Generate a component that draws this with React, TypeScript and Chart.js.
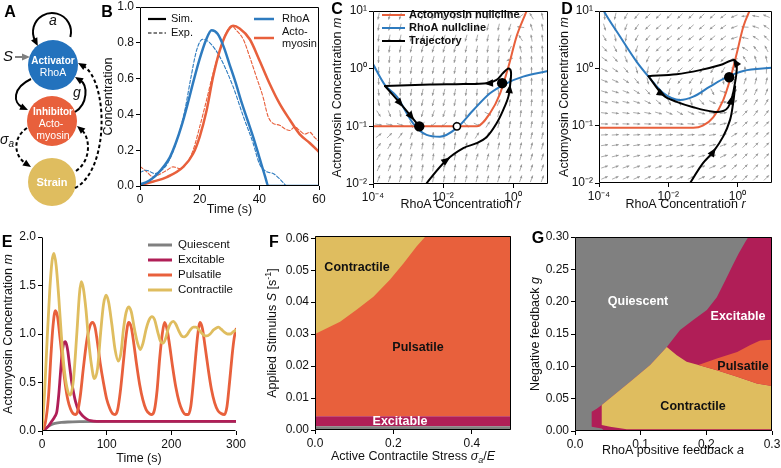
import React, { useEffect, useRef } from 'react';
import { Chart, registerables } from 'chart.js';
Chart.register(...registerables);

const W = 781;
const H = 468;
const FONT = '"Liberation Sans", Arial, Helvetica, sans-serif';
const INK = '#111111';
const BLUE = '#2e7bbf';
const NODE_BLUE = '#2372bd';
const ORANGE = '#e8603c';
const CRIMSON = '#b01e57';
const YELLOW = '#dfbd5f';
const GREY = '#808080';
const QGREY = '#979797';

// ---------------- Panel B ----------------
const B_X_TICKS = [0, 20, 40, 60];
const B_Y_TICKS = [0, 0.2, 0.4, 0.6, 0.8, 1.0];
const B_T_SIM = [0, 2, 4, 6, 8, 10, 12, 14, 16, 18, 20, 22, 24, 26, 28, 30, 32, 34, 36, 38, 40, 42, 43, 50, 60];
const B_RHOA_SIM = [0.01, 0.02, 0.04, 0.07, 0.11, 0.16, 0.24, 0.34, 0.46, 0.59, 0.71, 0.81, 0.87, 0.85, 0.78, 0.68, 0.58, 0.47, 0.37, 0.27, 0.16, 0.05, 0, 0, 0];
const B_T_RHOA_EXP = [0, 2, 5, 7, 9, 11, 13, 15, 17, 19, 21, 23.4, 26.8, 31.2, 34.6, 37.9, 40, 42.4, 44.6, 46.8, 49];
const B_RHOA_EXP = [0.075, 0.088, 0.07, 0.085, 0.12, 0.19, 0.29, 0.42, 0.6, 0.76, 0.82, 0.8, 0.72, 0.555, 0.39, 0.24, 0.125, 0.08, 0.07, 0.04, 0.0];
const B_T_ACTO_SIM = [0, 4.5, 9, 14.5, 17.8, 20, 22.3, 24.5, 26.8, 29, 31.2, 33.4, 36.8, 40.1, 43.5, 46.8, 50.2, 53.5, 56.9, 60];
const B_ACTO_SIM = [0.005, 0.025, 0.05, 0.107, 0.18, 0.275, 0.42, 0.61, 0.76, 0.854, 0.895, 0.88, 0.82, 0.7, 0.57, 0.46, 0.37, 0.29, 0.24, 0.19];
const B_T_ACTO_EXP = [0, 2.2, 4.5, 6, 9, 11.1, 13.4, 15.6, 17.8, 20, 22.3, 24.5, 26.8, 29, 30.7, 32.3, 34.6, 36.8, 39, 41.2, 42.9, 44.6, 46.8, 48.5, 50.2, 51.9, 53.5, 55.2, 56.9, 58.6, 60];
const B_ACTO_EXP = [0.11, 0.08, 0.05, 0.06, 0.088, 0.107, 0.097, 0.125, 0.2, 0.33, 0.48, 0.63, 0.76, 0.86, 0.895, 0.87, 0.82, 0.72, 0.61, 0.5, 0.39, 0.35, 0.34, 0.32, 0.31, 0.33, 0.31, 0.29, 0.3, 0.27, 0.25];

// ---------------- Panels C / D (phase planes) ----------------
const LOG_R_TICKS = [1e-4, 1e-2, 1];
const LOG_R_LABELS = ['10⁻⁴', '10⁻²', '10⁰'];
const LOG_M_TICKS = [1e-2, 1e-1, 1, 10];
const LOG_M_LABELS = ['10⁻²', '10⁻¹', '10⁰', '10¹'];
const QUIVER_LOG_R = [-3.84, -3.53, -3.22, -2.91, -2.59, -2.28, -1.97, -1.66, -1.34, -1.03, -0.72, -0.41, -0.09, 0.22, 0.53, 0.84];
const QUIVER_LOG_M = [-1.91, -1.72, -1.53, -1.34, -1.16, -0.97, -0.78, -0.59, -0.41, -0.22, -0.03, 0.16, 0.34, 0.53, 0.72, 0.91];

const C_ORANGE_R = [1e-4, 0.093, 0.22, 0.43, 0.74, 1.26, 2.5, 3.2];
const C_ORANGE_M = [0.1, 0.1, 0.169, 0.374, 1.08, 3.59, 10.4, 16];
const C_BLUE_R = [1e-4, 2.2e-4, 4.8e-4, 1.4e-3, 3.4e-3, 8.2e-3, 0.0245, 0.074, 0.22, 0.65, 1.94, 10];
const C_BLUE_M = [1.2, 0.52, 0.327, 0.113, 0.071, 0.066, 0.093, 0.192, 0.374, 0.558, 0.728, 0.912];
const C_TRAJ1_R = [2.6e-3, 3.4e-3, 0.0126, 0.038, 0.091, 0.18, 0.34, 0.52, 0.74, 0.84, 0.88, 0.85, 0.72, 0.52, 0.34, 0.18, 0.038, 4.3e-3, 2.2e-4];
const C_TRAJ1_M = [0.008, 0.0103, 0.026, 0.042, 0.051, 0.066, 0.113, 0.19, 0.33, 0.56, 0.78, 0.95, 1.0, 0.84, 0.64, 0.56, 0.54, 0.53, 0.5];
const C_TRAJ2_R = [2.2e-4, 6e-4, 1.3e-3, 2.1e-3];
const C_TRAJ2_M = [0.5, 0.25, 0.143, 0.1];
const C_STABLE_R = [2.1e-3, 0.49];
const C_STABLE_M = [0.1, 0.56];
const C_UNSTABLE_R = [0.025];
const C_UNSTABLE_M = [0.1];
// arrowheads: [r, m, rToward, mToward]
const C_ARROWS = [
  [0.0126, 0.026, 0.038, 0.042],
  [0.8, 0.45, 0.88, 0.78],
  [0.2, 0.56, 0.1, 0.55],
  [6e-4, 0.25, 1.3e-3, 0.143],
  [1.25e-3, 0.147, 2.1e-3, 0.1],
];

const D_ORANGE_R = [1e-4, 0.053, 0.1, 0.2, 0.39, 0.61, 0.96, 1.48, 2.3, 3];
const D_ORANGE_M = [0.092, 0.092, 0.1, 0.14, 0.28, 0.63, 1.83, 5.3, 10.4, 15];
const D_BLUE_R = [1e-4, 1.33e-4, 4.1e-4, 1.23e-3, 2.97e-3, 7.2e-3, 0.022, 0.053, 0.16, 0.49, 1.48, 10];
const D_BLUE_M = [15, 10.4, 3.56, 1.3, 0.67, 0.37, 0.28, 0.32, 0.48, 0.7, 0.9, 1.02];
const D_APPROACH_R = [0.035, 0.043, 0.1, 0.2, 0.39, 0.61, 0.75, 0.86];
const D_APPROACH_M = [0.008, 0.01, 0.022, 0.035, 0.065, 0.125, 0.245, 0.48];
const D_CYCLE_R = [2.67e-3, 7.2e-3, 0.0176, 0.053, 0.2, 0.39, 0.54, 0.69, 0.85, 0.96, 0.8, 0.32, 0.083, 0.0176, 2.67e-3];
const D_CYCLE_M = [0.73, 0.34, 0.26, 0.21, 0.175, 0.18, 0.21, 0.3, 0.55, 1.07, 1.4, 1.14, 0.93, 0.79, 0.73];
const D_STABLE_R = [0.58];
const D_STABLE_M = [0.7];
const D_ARROWS = [
  [0.2, 0.035, 0.39, 0.065],
  [0.66, 0.28, 0.85, 0.55],
  [6.5e-3, 0.36, 0.0176, 0.26],
  [0.88, 1.28, 0.8, 1.4],
];

// ---------------- Panel E ----------------
const E_X_TICKS = [0, 100, 200, 300];
const E_Y_TICKS = [0, 0.5, 1.0, 1.5, 2.0];
const E_T_QUI = [0, 5, 10, 15, 20, 30, 40, 60, 100, 300];
const E_QUI = [0, 0.025, 0.05, 0.068, 0.078, 0.088, 0.093, 0.097, 0.1, 0.1];
const E_T_EXC = [0, 5, 10, 15, 20, 23, 26, 28, 30, 32, 34, 36, 38, 40, 42, 44, 46, 49, 52, 56, 60, 64, 70, 75, 85, 100, 300];
const E_EXC = [0, 0.02, 0.05, 0.1, 0.15, 0.2, 0.38, 0.55, 0.72, 0.85, 0.91, 0.92, 0.89, 0.82, 0.71, 0.6, 0.5, 0.39, 0.3, 0.22, 0.18, 0.15, 0.12, 0.107, 0.1, 0.1, 0.1];
const E_T_PUL = [0, 5, 10, 14, 17, 20.5, 24, 28, 32, 36, 40, 44, 48, 51.5, 55, 59, 64, 69, 74, 78, 82, 86, 90, 95, 100, 105, 109, 113, 117, 121, 126, 130, 134, 138, 142, 146, 151, 156, 161, 166, 170, 174, 178, 182, 186, 189.5, 193, 197, 202, 207, 212, 217, 222, 226, 230, 234, 238, 241, 244.5, 248, 252, 257, 262, 267, 272, 277, 282, 286, 290, 294, 297, 300];
const E_PUL = [0, 0.08, 0.35, 0.8, 1.08, 1.24, 1.18, 0.95, 0.7, 0.48, 0.32, 0.23, 0.18, 0.17, 0.2, 0.35, 0.65, 0.92, 1.08, 1.12, 1.07, 0.9, 0.7, 0.5, 0.33, 0.23, 0.18, 0.17, 0.22, 0.4, 0.72, 0.98, 1.12, 1.07, 0.9, 0.7, 0.48, 0.32, 0.22, 0.18, 0.17, 0.22, 0.42, 0.75, 1.0, 1.12, 1.06, 0.9, 0.66, 0.45, 0.3, 0.21, 0.17, 0.17, 0.25, 0.5, 0.8, 1.0, 1.12, 1.06, 0.88, 0.64, 0.43, 0.29, 0.21, 0.18, 0.17, 0.25, 0.5, 0.78, 0.95, 1.05];
const E_T_CON = [0, 4, 8, 12, 15.5, 18.5, 22, 26, 30, 34, 38.5, 43.7, 48.5, 54, 58, 60.7, 64, 68, 72, 76.5, 81, 86, 90.5, 95, 99, 103, 108, 113, 118, 122, 126, 130, 134, 138, 143, 148, 152, 156, 161, 166, 170, 174, 179, 183, 187, 191, 195, 199, 203, 207, 211, 216, 220, 224, 229, 234, 238, 242, 247, 251, 255, 260, 265, 269, 273, 277, 282, 287, 291, 295, 300];
const E_CON = [0, 0.4, 0.95, 1.45, 1.75, 1.83, 1.7, 1.37, 0.98, 0.66, 0.45, 0.37, 0.52, 1.02, 1.42, 1.54, 1.47, 1.25, 0.94, 0.68, 0.54, 0.65, 1.0, 1.3, 1.4, 1.33, 1.1, 0.84, 0.72, 0.8, 1.05, 1.22, 1.28, 1.23, 1.05, 0.9, 0.84, 0.9, 1.05, 1.15, 1.18, 1.15, 1.02, 0.93, 0.905, 0.95, 1.05, 1.11, 1.13, 1.1, 1.04, 0.98, 0.97, 0.99, 1.04, 1.07, 1.07, 1.05, 1.01, 0.985, 0.98, 1.0, 1.04, 1.06, 1.07, 1.05, 1.02, 1.0, 1.0, 1.02, 1.04];
const E_LEGEND = ['Quiescent', 'Excitable', 'Pulsatile', 'Contractile'];

// ---------------- Panel F ----------------
const F_X_TICKS = [0, 0.2, 0.4];
const F_Y_TICKS = [0, 0.01, 0.02, 0.03, 0.04, 0.05, 0.06];
const F_X_MAX = 0.5;
const F_Y_MAX = 0.0607;
const F_QUI_TOP = 0.0012;
const F_EXC_TOP = 0.0043;
const F_CON_X = [0, 0.021, 0.064, 0.106, 0.149, 0.191, 0.225, 0.259, 0.28, 0.284, 0];
const F_CON_Y = [0.03, 0.0313, 0.0339, 0.0376, 0.0417, 0.047, 0.052, 0.0574, 0.0603, 0.0607, 0.0607];

// ---------------- Panel G ----------------
const G_X_TICKS = [0, 0.1, 0.2, 0.3];
const G_Y_TICKS = [0, 0.05, 0.1, 0.15, 0.2, 0.25, 0.3];
const G_EXC_A = [0.3, 0.3, 0.264, 0.259, 0.249, 0.239, 0.229, 0.216, 0.2008, 0.1805, 0.16, 0.1398, 0.1144, 0.0839, 0.0407, 0.033, 0.0254, 0.0254, 0.0407, 0.045, 0.3];
const G_EXC_G = [0, 0.3, 0.3, 0.292, 0.274, 0.254, 0.233, 0.207, 0.187, 0.172, 0.156, 0.13, 0.1019, 0.0762, 0.0401, 0.0345, 0.0298, 0.0067, 0.004, 0, 0];
const G_CON_A = [0.0407, 0.0839, 0.1144, 0.1398, 0.155, 0.17, 0.188, 0.216, 0.247, 0.277, 0.3, 0.3, 0.0788, 0.0534, 0.0407, 0.0407];
const G_CON_G = [0.0401, 0.0762, 0.1019, 0.13, 0.117, 0.107, 0.102, 0.094, 0.084, 0.0736, 0.0695, 0.0026, 0.0026, 0.0067, 0.0093, 0.0401];
const G_PUL_A = [0.188, 0.216, 0.247, 0.267, 0.282, 0.3, 0.3, 0.277, 0.247, 0.216, 0.188];
const G_PUL_G = [0.102, 0.112, 0.122, 0.133, 0.14, 0.141, 0.0695, 0.0736, 0.084, 0.094, 0.102];

// ---------------- Panel A (schematic) ----------------
const NODE_X = [53, 52, 52];
const NODE_Y = [65, 121, 182];
const NODE_R = [25, 25, 24];
const NODE_COLORS = [NODE_BLUE, ORANGE, YELLOW];

// ---------------- layout ----------------
type Rect = { l: number; t: number; r: number; b: number };
const RECT_B: Rect = { l: 140, t: 7, r: 319, b: 186 };
const RECT_C: Rect = { l: 373, t: 11, r: 548, b: 184 };
const RECT_D: Rect = { l: 599, t: 11, r: 772, b: 183 };
const RECT_E: Rect = { l: 42, t: 237, r: 236, b: 431 };
const RECT_F: Rect = { l: 315, t: 236, r: 511, b: 430 };
const RECT_G: Rect = { l: 575, t: 237, r: 772, b: 431 };
const AXW = 30;
const AXH = 20;

const pts = (xs: number[], ys: number[]) => xs.map((x, i) => ({ x, y: ys[i] }));
const clamp = (v: number, a: number, b: number) => Math.max(a, Math.min(b, v));

type Seg = { t: string; i?: boolean; b?: boolean; sub?: boolean; sup?: boolean };
function rich(ctx: CanvasRenderingContext2D, segs: Seg[], x: number, y: number, size: number, opt: any = {}) {
  ctx.save();
  ctx.translate(x, y);
  if (opt.rot) ctx.rotate(-Math.PI / 2);
  const fontOf = (s: Seg) =>
    `${s.i ? 'italic ' : ''}${s.b || opt.bold ? 'bold ' : ''}${s.sub || s.sup ? Math.round(size * 0.72) : size}px ${FONT}`;
  let total = 0;
  const ws = segs.map((s) => {
    ctx.font = fontOf(s);
    const w = ctx.measureText(s.t).width;
    total += w;
    return w;
  });
  let cx = opt.align === 'left' ? 0 : opt.align === 'right' ? -total : -total / 2;
  ctx.textBaseline = 'middle';
  ctx.textAlign = 'left';
  ctx.fillStyle = opt.color || INK;
  segs.forEach((s, k) => {
    ctx.font = fontOf(s);
    const dy = s.sub ? size * 0.3 : s.sup ? -size * 0.38 : 0;
    ctx.fillText(s.t, cx, dy);
    cx += ws[k];
  });
  ctx.restore();
}
const txt = (t: string, i = false): Seg => ({ t, i });

function fitFixed(kind: string) {
  return (s: any) => {
    if (kind === 'y') s.width = AXW;
    else s.height = AXH;
    s.paddingLeft = 0;
    s.paddingRight = 0;
    s.paddingTop = 0;
    s.paddingBottom = 0;
  };
}

function mkAxis(kind: string, type: string, min: number, max: number, ticks: number[], fmt: (v: number, i: number) => string) {
  return {
    type,
    min,
    max,
    display: true,
    grid: { display: true, drawOnChartArea: false, drawTicks: true, tickLength: 4, color: '#000', lineWidth: 1 },
    border: { display: false },
    ticks: {
      color: INK,
      font: { family: FONT, size: 12 },
      padding: 2,
      maxRotation: 0,
      minRotation: 0,
      autoSkip: false,
      callback: (v: any, i: number) => fmt(Number(v), i),
    },
    afterBuildTicks: (s: any) => {
      s.ticks = ticks.map((v) => ({ value: v }));
    },
    afterFit: fitFixed(kind),
  };
}

function baseOpts(rect: Rect, scales: any) {
  return {
    responsive: false,
    animation: false,
    devicePixelRatio: 1,
    events: [],
    layout: {
      autoPadding: false,
      padding: { left: rect.l - AXW, top: rect.t, right: W - rect.r, bottom: H - rect.b - AXH },
    },
    plugins: { legend: { display: false }, tooltip: { enabled: false } },
    scales,
  };
}

function lineDs(data: any[], color: string, width: number, extra: any = {}) {
  return {
    data,
    borderColor: color,
    backgroundColor: color,
    borderWidth: width,
    pointRadius: 0,
    showLine: true,
    fill: false,
    tension: 0,
    borderCapStyle: 'round',
    borderJoinStyle: 'round',
    ...extra,
  };
}
function polyDs(data: any[], color: string, order: number) {
  return { data, borderWidth: 0, borderColor: color, backgroundColor: color, pointRadius: 0, showLine: true, fill: 'shape', order };
}

function framePlugin(sides: string) {
  return {
    id: 'frame',
    afterDatasetsDraw(chart: any) {
      const { ctx, chartArea: a } = chart;
      const l = Math.round(a.left) + 0.5;
      const r = Math.round(a.right) - 0.5;
      const t = Math.round(a.top) + 0.5;
      const b = Math.round(a.bottom) - 0.5;
      ctx.save();
      ctx.strokeStyle = '#000';
      ctx.lineWidth = 1;
      ctx.beginPath();
      if (sides === 'lb') {
        ctx.moveTo(l, t);
        ctx.lineTo(l, b);
        ctx.lineTo(r, b);
      } else {
        ctx.rect(l, t, r - l, b - t);
      }
      ctx.stroke();
      ctx.restore();
    },
  };
}

function drawPlugin(id: string, fn: (ctx: CanvasRenderingContext2D, chart: any) => void) {
  return { id, afterDraw(chart: any) { fn(chart.ctx, chart); } };
}

function logInterp(xs: number[], ys: number[], x: number) {
  const lx = Math.log10(x);
  const LX = xs.map((v) => Math.log10(v));
  const LY = ys.map((v) => Math.log10(v));
  let k = 0;
  while (k < LX.length - 2 && lx > LX[k + 1]) k++;
  const f = (lx - LX[k]) / (LX[k + 1] - LX[k]);
  return LY[k] + f * (LY[k + 1] - LY[k]);
}

function quiverPlugin(bR: number[], bM: number[], oR: number[], oM: number[], kr: number, km: number) {
  return {
    id: 'quiver',
    beforeDatasetsDraw(chart: any) {
      const { ctx, chartArea: a, scales } = chart;
      ctx.save();
      ctx.beginPath();
      ctx.rect(a.left, a.top, a.right - a.left, a.bottom - a.top);
      ctx.clip();
      ctx.strokeStyle = QGREY;
      ctx.fillStyle = QGREY;
      ctx.lineWidth = 0.8;
      for (const lr of QUIVER_LOG_R) {
        for (const lm of QUIVER_LOG_M) {
          const r = Math.pow(10, lr);
          const m = Math.pow(10, lm);
          const px = scales.x.getPixelForValue(r);
          const py = scales.y.getPixelForValue(m);
          const lb = logInterp(bR, bM, r);
          const lo = logInterp(oR, oM, r);
          let dx = clamp(kr * (lb - lm), -1, 1);
          let dy = -clamp(km * (lo - lm), -1, 1);
          const n = Math.hypot(dx, dy);
          if (n < 1e-6) continue;
          dx /= n;
          dy /= n;
          const L = 7;
          const x1 = px + (dx * L) / 2;
          const y1 = py + (dy * L) / 2;
          ctx.beginPath();
          ctx.moveTo(px - (dx * L) / 2, py - (dy * L) / 2);
          ctx.lineTo(x1, y1);
          ctx.stroke();
          const ang = Math.atan2(dy, dx);
          ctx.beginPath();
          ctx.moveTo(x1, y1);
          ctx.lineTo(x1 - 2.6 * Math.cos(ang) + 1.3 * Math.sin(ang), y1 - 2.6 * Math.sin(ang) - 1.3 * Math.cos(ang));
          ctx.lineTo(x1 - 2.6 * Math.cos(ang) - 1.3 * Math.sin(ang), y1 - 2.6 * Math.sin(ang) + 1.3 * Math.cos(ang));
          ctx.closePath();
          ctx.fill();
        }
      }
      ctx.restore();
    },
  };
}

function head(ctx: CanvasRenderingContext2D, x: number, y: number, ang: number, len: number, wid: number, color: string) {
  ctx.save();
  ctx.translate(x, y);
  ctx.rotate(ang);
  ctx.beginPath();
  ctx.moveTo(0, 0);
  ctx.lineTo(-len, wid / 2);
  ctx.lineTo(-len, -wid / 2);
  ctx.closePath();
  ctx.fillStyle = color;
  ctx.fill();
  ctx.restore();
}

function trajArrowPlugin(arrows: number[][]) {
  return {
    id: 'trajArrows',
    afterDatasetsDraw(chart: any) {
      const { ctx, scales } = chart;
      for (const [r, m, r2, m2] of arrows) {
        const x = scales.x.getPixelForValue(r);
        const y = scales.y.getPixelForValue(m);
        const x2 = scales.x.getPixelForValue(r2);
        const y2 = scales.y.getPixelForValue(m2);
        const ang = Math.atan2(y2 - y, x2 - x);
        head(ctx, x + 4.5 * Math.cos(ang), y + 4.5 * Math.sin(ang), ang, 9, 7.5, '#000');
      }
    },
  };
}

// --------------- chart builders ---------------
function makeA(c: HTMLCanvasElement) {
  const nodes = NODE_X.map((x, i) => ({ x, y: NODE_Y[i] }));
  const curve = (ctx: CanvasRenderingContext2D, p0: number[], c1: number[], c2: number[], p3: number[], dashed: boolean) => {
    const ang = Math.atan2(p3[1] - c2[1], p3[0] - c2[0]);
    const e = [p3[0] - Math.cos(ang) * 6, p3[1] - Math.sin(ang) * 6];
    ctx.save();
    ctx.strokeStyle = '#000';
    ctx.lineWidth = 2;
    if (dashed) ctx.setLineDash([3.5, 2.5]);
    ctx.beginPath();
    ctx.moveTo(p0[0], p0[1]);
    ctx.bezierCurveTo(c1[0], c1[1], c2[0], c2[1], e[0], e[1]);
    ctx.stroke();
    ctx.restore();
    head(ctx, p3[0], p3[1], ang, 8, 7, '#000');
  };
  return new Chart(c, {
    type: 'scatter',
    data: {
      datasets: [
        {
          data: nodes,
          pointRadius: NODE_R,
          pointBackgroundColor: NODE_COLORS,
          pointBorderWidth: 0,
          pointBorderColor: NODE_COLORS,
        },
      ],
    },
    options: {
      responsive: false,
      animation: false,
      devicePixelRatio: 1,
      events: [],
      layout: { autoPadding: false, padding: 0 },
      plugins: { legend: { display: false }, tooltip: { enabled: false } },
      scales: {
        x: { type: 'linear', min: 0, max: W, display: false },
        y: { type: 'linear', min: 0, max: H, reverse: true, display: false },
      },
    } as any,
    plugins: [
      drawPlugin('schematic', (ctx) => {
        // self-activation loop a
        ctx.save();
        ctx.strokeStyle = '#000';
        ctx.lineWidth = 2;
        const cx = 52, cy = 32, rr = 19;
        const a0 = (15 * Math.PI) / 180, a1 = (153 * Math.PI) / 180;
        ctx.beginPath();
        ctx.arc(cx, cy, rr, a0, a1, true);
        ctx.stroke();
        ctx.restore();
        const ex = cx + rr * Math.cos(a1), ey = cy + rr * Math.sin(a1);
        const tang = Math.atan2(-Math.cos(a1), Math.sin(a1));
        head(ctx, ex + 6 * Math.cos(tang), ey + 6 * Math.sin(tang), tang, 8, 7, '#000');
        rich(ctx, [txt('a', true)], 53, 21, 14);
        // stimulus S
        rich(ctx, [txt('S', true)], 8, 57, 15);
        ctx.save();
        ctx.strokeStyle = GREY;
        ctx.lineWidth = 2;
        ctx.beginPath();
        ctx.moveTo(15, 57);
        ctx.lineTo(23, 57);
        ctx.stroke();
        ctx.restore();
        head(ctx, 30, 57, 0, 8, 7, GREY);
        // negative feedback g
        curve(ctx, [31, 79], [12, 88], [13, 103], [28, 110], false);
        curve(ctx, [75, 112], [88, 104], [88, 85], [75, 77], false);
        rich(ctx, [txt('g', true)], 77, 93, 14);
        // strain couplings
        curve(ctx, [27, 128], [12, 138], [14, 156], [31, 167], true);
        rich(ctx, [{ t: 'σ', i: true }, { t: 'a', i: true, sub: true }], 7, 140, 14);
        curve(ctx, [76, 171], [92, 160], [90, 137], [77, 126], true);
        curve(ctx, [75, 188], [110, 170], [108, 80], [78, 63], true);
        // node labels
        rich(ctx, [txt('Activator')], 53, 61, 10, { bold: true, color: '#fff' });
        rich(ctx, [txt('RhoA')], 53, 73, 10.5, { color: '#fff' });
        rich(ctx, [txt('Inhibitor')], 53, 112, 10, { bold: true, color: '#fff' });
        rich(ctx, [txt('Acto-')], 51, 124, 10.5, { color: '#fff' });
        rich(ctx, [txt('myosin')], 53, 136, 10.5, { color: '#fff' });
        rich(ctx, [txt('Strain')], 52, 183, 11, { bold: true, color: '#fff' });
        // panel letters
        const letters: [string, number, number][] = [
          ['A', 10, 13], ['B', 107, 13], ['C', 337, 10], ['D', 567, 10], ['E', 7, 243], ['F', 274, 243], ['G', 538, 239],
        ];
        for (const [s, x, y] of letters) rich(ctx, [txt(s)], x, y, 16, { bold: true, color: '#000' });
      }),
    ],
  });
}

function makeB(c: HTMLCanvasElement) {
  return new Chart(c, {
    type: 'scatter',
    data: {
      datasets: [
        lineDs(pts(B_T_SIM, B_RHOA_SIM), BLUE, 2.5, { cubicInterpolationMode: 'monotone' }),
        lineDs(pts(B_T_ACTO_SIM, B_ACTO_SIM), ORANGE, 2.5, { cubicInterpolationMode: 'monotone' }),
        lineDs(pts(B_T_RHOA_EXP, B_RHOA_EXP), BLUE, 1.1, { borderDash: [3.5, 2], cubicInterpolationMode: 'monotone' }),
        lineDs(pts(B_T_ACTO_EXP, B_ACTO_EXP), ORANGE, 1.1, { borderDash: [3.5, 2], cubicInterpolationMode: 'monotone' }),
      ],
    },
    options: baseOpts(RECT_B, {
      x: mkAxis('x', 'linear', 0, 60, B_X_TICKS, (v) => v.toFixed(0)),
      y: mkAxis('y', 'linear', 0, 1, B_Y_TICKS, (v) => v.toFixed(1)),
    }) as any,
    plugins: [
      framePlugin('box'),
      drawPlugin('bText', (ctx) => {
        rich(ctx, [txt('Time (s)')], 229.5, 210, 12.5);
        rich(ctx, [txt('Concentration')], 109, 96.5, 12.5, { rot: true });
        const leg = (y: number, color: string, w: number, dash: number[], x1: number, x2: number) => {
          ctx.save();
          ctx.strokeStyle = color;
          ctx.lineWidth = w;
          ctx.setLineDash(dash);
          ctx.beginPath();
          ctx.moveTo(x1, y);
          ctx.lineTo(x2, y);
          ctx.stroke();
          ctx.restore();
        };
        leg(19, '#000', 2.2, [], 148, 166);
        leg(33, '#000', 1.2, [3.5, 2], 148, 166);
        rich(ctx, [txt('Sim.')], 171, 19, 11, { align: 'left' });
        rich(ctx, [txt('Exp.')], 171, 33, 11, { align: 'left' });
        leg(19, BLUE, 2.5, [], 254, 274);
        leg(38, ORANGE, 2.5, [], 254, 274);
        rich(ctx, [txt('RhoA')], 282, 19, 11, { align: 'left' });
        rich(ctx, [txt('Acto-')], 282, 32, 11, { align: 'left' });
        rich(ctx, [txt('myosin')], 282, 44, 11, { align: 'left' });
      }),
    ],
  });
}

function phaseAxes(rect: Rect) {
  return baseOpts(rect, {
    x: mkAxis('x', 'logarithmic', 1e-4, 10, LOG_R_TICKS, (v, i) => LOG_R_LABELS[i] || ''),
    y: mkAxis('y', 'logarithmic', 1e-2, 10, LOG_M_TICKS, (v, i) => LOG_M_LABELS[i] || ''),
  });
}

function fixedDs(rs: number[], ms: number[], open: boolean) {
  return {
    data: pts(rs, ms),
    showLine: false,
    pointRadius: open ? 3.6 : 5.2,
    pointBackgroundColor: open ? '#fff' : '#000',
    pointBorderColor: '#000',
    pointBorderWidth: open ? 1.6 : 0,
  };
}

function phaseTitles(ctx: CanvasRenderingContext2D, rect: Rect, ytx: number) {
  rich(ctx, [txt('RhoA Concentration '), txt('r', true)], (rect.l + rect.r) / 2, 205, 12.5);
  rich(ctx, [txt('Actomyosin Concentration '), txt('m', true)], ytx, (rect.t + rect.b) / 2, 12.5, { rot: true });
}

function makeC(c: HTMLCanvasElement) {
  return new Chart(c, {
    type: 'scatter',
    data: {
      datasets: [
        fixedDs(C_STABLE_R, C_STABLE_M, false),
        fixedDs(C_UNSTABLE_R, C_UNSTABLE_M, true),
        lineDs(pts(C_TRAJ1_R, C_TRAJ1_M), '#000', 2, { tension: 0.35 }),
        lineDs(pts(C_TRAJ2_R, C_TRAJ2_M), '#000', 2, { tension: 0.2 }),
        lineDs(pts(C_BLUE_R, C_BLUE_M), BLUE, 2, { cubicInterpolationMode: 'monotone' }),
        lineDs(pts(C_ORANGE_R, C_ORANGE_M), ORANGE, 2, { cubicInterpolationMode: 'monotone' }),
      ],
    },
    options: phaseAxes(RECT_C) as any,
    plugins: [
      quiverPlugin(C_BLUE_R, C_BLUE_M, C_ORANGE_R, C_ORANGE_M, 0.2, 1),
      trajArrowPlugin(C_ARROWS),
      framePlugin('box'),
      drawPlugin('cText', (ctx) => {
        phaseTitles(ctx, RECT_C, 338);
        const rows: [string, string, number][] = [
          ['Actomyosin nullcline', ORANGE, 15],
          ['RhoA nullcline', BLUE, 28],
          ['Trajectory', '#000', 41],
        ];
        for (const [s, col, y] of rows) {
          ctx.save();
          ctx.strokeStyle = col;
          ctx.lineWidth = 2;
          ctx.beginPath();
          ctx.moveTo(382, y);
          ctx.lineTo(405, y);
          ctx.stroke();
          ctx.restore();
          rich(ctx, [txt(s)], 409, y, 11, { align: 'left', bold: true });
        }
      }),
    ],
  });
}

function makeD(c: HTMLCanvasElement) {
  return new Chart(c, {
    type: 'scatter',
    data: {
      datasets: [
        fixedDs(D_STABLE_R, D_STABLE_M, false),
        lineDs(pts(D_APPROACH_R, D_APPROACH_M), '#000', 2, { tension: 0.35 }),
        lineDs(pts(D_CYCLE_R, D_CYCLE_M), '#000', 2, { tension: 0.35 }),
        lineDs(pts(D_BLUE_R, D_BLUE_M), BLUE, 2, { cubicInterpolationMode: 'monotone' }),
        lineDs(pts(D_ORANGE_R, D_ORANGE_M), ORANGE, 2, { cubicInterpolationMode: 'monotone' }),
      ],
    },
    options: phaseAxes(RECT_D) as any,
    plugins: [
      quiverPlugin(D_BLUE_R, D_BLUE_M, D_ORANGE_R, D_ORANGE_M, 1, 0.5),
      trajArrowPlugin(D_ARROWS),
      framePlugin('box'),
      drawPlugin('dText', (ctx) => phaseTitles(ctx, RECT_D, 565)),
    ],
  });
}

function makeE(c: HTMLCanvasElement) {
  const colors = [GREY, CRIMSON, ORANGE, YELLOW];
  return new Chart(c, {
    type: 'scatter',
    data: {
      datasets: [
        lineDs(pts(E_T_CON, E_CON), YELLOW, 2.8, { cubicInterpolationMode: 'monotone' }),
        lineDs(pts(E_T_PUL, E_PUL), ORANGE, 2.8, { cubicInterpolationMode: 'monotone' }),
        lineDs(pts(E_T_EXC, E_EXC), CRIMSON, 2.8, { cubicInterpolationMode: 'monotone' }),
        lineDs(pts(E_T_QUI, E_QUI), GREY, 2.8, { cubicInterpolationMode: 'monotone' }),
      ],
    },
    options: baseOpts(RECT_E, {
      x: mkAxis('x', 'linear', 0, 300, E_X_TICKS, (v) => v.toFixed(0)),
      y: mkAxis('y', 'linear', 0, 2, E_Y_TICKS, (v) => v.toFixed(1)),
    }) as any,
    plugins: [
      framePlugin('lb'),
      drawPlugin('eText', (ctx) => {
        rich(ctx, [txt('Time (s)')], 139, 459, 12.5);
        rich(ctx, [txt('Actomyosin Concentration '), txt('m', true)], 9, 334, 12.5, { rot: true });
        E_LEGEND.forEach((s, i) => {
          const y = 245 + i * 15;
          ctx.save();
          ctx.strokeStyle = colors[i];
          ctx.lineWidth = 3;
          ctx.beginPath();
          ctx.moveTo(148, y);
          ctx.lineTo(172, y);
          ctx.stroke();
          ctx.restore();
          rich(ctx, [txt(s)], 178, y, 11.5, { align: 'left' });
        });
      }),
    ],
  });
}

function makeF(c: HTMLCanvasElement) {
  const rect = (y0: number, y1: number) => pts([0, F_X_MAX, F_X_MAX, 0, 0], [y0, y0, y1, y1, y0]);
  return new Chart(c, {
    type: 'scatter',
    data: {
      datasets: [
        polyDs(rect(0, F_QUI_TOP), GREY, 1),
        polyDs(rect(F_QUI_TOP, F_EXC_TOP), CRIMSON, 2),
        polyDs(pts(F_CON_X, F_CON_Y), YELLOW, 3),
        polyDs(rect(F_EXC_TOP, F_Y_MAX), ORANGE, 4),
      ],
    },
    options: baseOpts(RECT_F, {
      x: mkAxis('x', 'linear', 0, F_X_MAX, F_X_TICKS, (v) => v.toFixed(1)),
      y: mkAxis('y', 'linear', 0, F_Y_MAX, F_Y_TICKS, (v) => v.toFixed(2)),
    }) as any,
    plugins: [
      framePlugin('box'),
      drawPlugin('fText', (ctx) => {
        rich(ctx, [txt('Active Contractile Stress '), { t: 'σ', i: true }, { t: 'a', i: true, sub: true }, txt('/'), txt('E', true)], 413, 457, 12.5);
        rich(ctx, [txt('Applied Stimulus '), txt('S', true), txt(' [s'), { t: '-1', sup: true }, txt(']')], 273, 333, 12.5, { rot: true });
        rich(ctx, [txt('Contractile')], 357, 268, 12.5, { bold: true, color: '#111' });
        rich(ctx, [txt('Pulsatile')], 418, 348, 12.5, { bold: true, color: '#111' });
        rich(ctx, [txt('Excitable')], 400, 422, 12.5, { bold: true, color: '#fff' });
      }),
    ],
  });
}

function makeG(c: HTMLCanvasElement) {
  return new Chart(c, {
    type: 'scatter',
    data: {
      datasets: [
        polyDs(pts(G_PUL_A, G_PUL_G), ORANGE, 1),
        polyDs(pts(G_CON_A, G_CON_G), YELLOW, 2),
        polyDs(pts(G_EXC_A, G_EXC_G), CRIMSON, 3),
        polyDs(pts([0, 0.3, 0.3, 0, 0], [0, 0, 0.3, 0.3, 0]), GREY, 4),
      ],
    },
    options: baseOpts(RECT_G, {
      x: mkAxis('x', 'linear', 0, 0.3, G_X_TICKS, (v) => v.toFixed(1)),
      y: mkAxis('y', 'linear', 0, 0.3, G_Y_TICKS, (v) => v.toFixed(2)),
    }) as any,
    plugins: [
      framePlugin('box'),
      drawPlugin('gText', (ctx) => {
        rich(ctx, [txt('RhoA positive feedback '), txt('a', true)], 673, 451, 12.5);
        rich(ctx, [txt('Negative feedback '), txt('g', true)], 536, 334, 12.5, { rot: true });
        rich(ctx, [txt('Quiescent')], 638, 302, 12.5, { bold: true, color: '#fff' });
        rich(ctx, [txt('Excitable')], 738, 317, 12.5, { bold: true, color: '#fff' });
        rich(ctx, [txt('Pulsatile')], 743, 367, 12.5, { bold: true, color: '#111' });
        rich(ctx, [txt('Contractile')], 693, 407, 12.5, { bold: true, color: '#111' });
      }),
    ],
  });
}

function Layer({ make }: { make: (c: HTMLCanvasElement) => Chart }) {
  const ref = useRef<HTMLCanvasElement>(null);
  useEffect(() => {
    const ch = make(ref.current as HTMLCanvasElement);
    return () => ch.destroy();
  }, []);
  return (
    <canvas
      ref={ref}
      width={W}
      height={H}
      style={{ position: 'absolute', left: 0, top: 0, width: W, height: H }}
    />
  );
}

export default function App() {
  return (
    <div style={{ position: 'absolute', left: 0, top: 0, width: W, height: H, background: '#fff', overflow: 'hidden' }}>
      <Layer make={makeG} />
      <Layer make={makeF} />
      <Layer make={makeE} />
      <Layer make={makeD} />
      <Layer make={makeC} />
      <Layer make={makeB} />
      <Layer make={makeA} />
    </div>
  );
}
